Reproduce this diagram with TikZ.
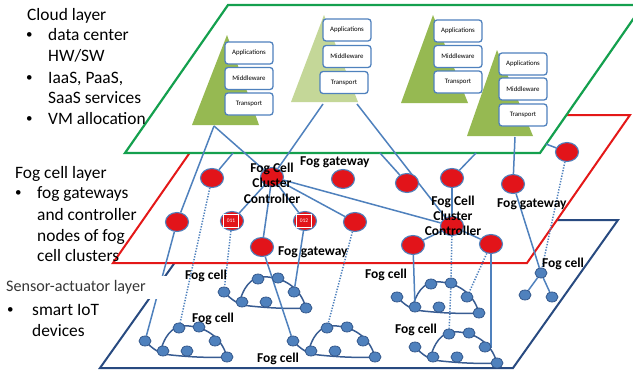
\documentclass[tikz,border=0pt]{standalone}
\usepackage{fontspec}
\setmainfont{Carlito}
\usetikzlibrary{shapes.geometric}

\definecolor{linkblue}{RGB}{79,129,189}
\definecolor{arcblue}{RGB}{56,92,146}
\definecolor{dotedge}{RGB}{52,88,140}
\definecolor{cloudgreen}{RGB}{20,160,78}
\definecolor{fogline}{RGB}{228,24,24}
\definecolor{sensorline}{RGB}{40,74,128}
\definecolor{fogred}{RGB}{226,20,26}
\definecolor{stackgreen}{RGB}{150,185,82}
\definecolor{stackpale}{RGB}{196,215,152}
\definecolor{captiongray}{RGB}{55,55,55}

\pgfdeclarelayer{planes}
\pgfdeclarelayer{wires}
\pgfsetlayers{planes,wires,main}

\tikzset{
  plane/.style={fill=white, line width=2pt, line join=miter},
  stackbox/.style={draw=linkblue, line width=1.3pt, rounded corners=3pt, fill=white,
    minimum width=48pt, minimum height=22pt, inner sep=0pt, font=\fontsize{6.8}{7}\selectfont},
  fognode/.style={ellipse, draw=linkblue, line width=1.1pt, fill=fogred,
    minimum width=23pt, minimum height=19pt, inner sep=0pt},
  chip/.style={fill=fogred, draw=white, line width=0.5pt, text=white, minimum width=15pt,
    minimum height=13pt, inner sep=0pt, font=\fontsize{5.5}{6}\selectfont},
  sdot/.style={ellipse, draw=dotedge, line width=0.8pt, fill=linkblue,
    minimum width=12pt, minimum height=10pt, inner sep=0pt},
  link/.style={draw=linkblue, line width=1.5pt},
  dotlink/.style={draw=linkblue, line width=1.5pt, dash pattern=on 1.3pt off 1.5pt},
  grouparc/.style={draw=arcblue, line width=1.5pt},
  layertitle/.style={anchor=base west, inner sep=0pt, font=\fontsize{17.4}{20}\selectfont},
  bulletmark/.style={anchor=base west, inner sep=0pt, font=\fontsize{13}{14}\selectfont},
  tag/.style={anchor=base west, inner sep=0pt, font=\bfseries\fontsize{13.5}{15}\selectfont},
  ctag/.style={anchor=base, inner sep=0pt, font=\bfseries\fontsize{13.5}{15}\selectfont},
}

% one cluster of seven smart devices: #1 name prefix, (#2,#3) leftmost device
\newcommand\sensorgroup[3]{%
  \begin{scope}[shift={(#2,#3)}]
    \begin{pgfonlayer}{wires}
      \draw[grouparc] (0,0) .. controls (8,8) and (14,13) .. (26,14)
                            .. controls (45,16) and (65,17) .. (82,16);
      \draw[grouparc] (16,8) .. controls (22,-10) and (30,-16) .. (44,-15)
                             .. controls (58,-14) and (76,-6) .. (82,16);
    \end{pgfonlayer}
    \node[sdot] (#1-1) at (0,0) {};
    \node[sdot] (#1-2) at (18,10) {};
    \node[sdot] (#1-3) at (34,-13) {};
    \node[sdot] (#1-4) at (54,-14) {};
    \node[sdot] (#1-5) at (70,0) {};
    \node[sdot] (#1-6) at (42,10) {};
    \node[sdot] (#1-7) at (82,16) {};
  \end{scope}}

\begin{document}
\begin{tikzpicture}[x=1pt,y=-1pt]
\useasboundingbox (0,0) rectangle (633,372);

% the three layer planes, bottom to top
\begin{pgfonlayer}{planes}
  \begin{scope}
    \clip (0,0) rectangle (633,372);
    \draw[plane, draw=sensorline] (100,368) -- (513,368) -- (618,220) -- (205,220) -- cycle;
    \draw[plane, draw=fogline]    (113,263) -- (527,263) -- (630,115) -- (216,115) -- cycle;
    \draw[plane, draw=cloudgreen, line width=2.2pt] (125,153) -- (540,153) -- (643,5) -- (228,5) -- cycle;
  \end{scope}
\end{pgfonlayer}

% cloud stacks
\fill[stackgreen] (192,125) -- (227,35) -- (259,125) -- cycle;
\node[stackbox] (s1a) at (249,53)   {Applications};
\node[stackbox] (s1m) at (249,78.5) {Middleware};
\node[stackbox] (s1t) at (249,104)  {Transport};

\fill[stackpale] (291,102) -- (324,15) -- (358,102) -- cycle;
\node[stackbox] (s2a) at (347,30)   {Applications};
\node[stackbox] (s2m) at (347,56.5) {Middleware};
\node[stackbox] (s2t) at (344,82.5) {Transport};

\fill[stackgreen] (401,103) -- (433,15) -- (468,103) -- cycle;
\node[stackbox] (s3a) at (458,31)   {Applications};
\node[stackbox] (s3m) at (458,56.5) {Middleware};
\node[stackbox] (s3t) at (458,82)   {Transport};

\fill[stackgreen] (467,136) -- (497,50) -- (533,136) -- cycle;
\node[stackbox] (s4a) at (523,64)  {Applications};
\node[stackbox] (s4m) at (523,89)  {Middleware};
\node[stackbox] (s4t) at (523,115) {Transport};

% attachment points on the stacks and on the cloud plane edge
\coordinate (t1)  at (214,126);
\coordinate (t2l) at (323,104);
\coordinate (t2r) at (357,104);
\coordinate (t4)  at (515,137);
\coordinate (g1)  at (233,153);
\coordinate (g2)  at (380,153);
\coordinate (g3)  at (476,153);
\coordinate (g4)  at (546,144);

% fog cell layer nodes
\node[fognode] (gw1)  at (212,178) {};
\node[fognode] (ctl1) at (272,177) {};
\node[fognode] (gw2)  at (343,179) {};
\node[fognode] (gw6)  at (407,183) {};
\node[fognode] (gw7)  at (452,178) {};
\node[fognode] (gw8)  at (513,184) {};
\node[fognode] (gw9)  at (567,152) {};
\node[fognode] (gw3)  at (177,222) {};
\node[fognode] (n011) at (232,221) {};
\node[chip]    (c011) at (231,221) {011};
\node[fognode] (n012) at (305,221) {};
\node[chip]    (c012) at (304,221) {012};
\node[fognode] (gw4)  at (355,222) {};
\node[fognode] (ctl2) at (452,226) {};
\node[fognode] (gw5)  at (262,247) {};
\node[fognode] (gw10) at (413,245) {};
\node[fognode] (gw11) at (491,244) {};

% sensor-actuator layer devices
\sensorgroup{sa}{145}{341}
\sensorgroup{sb}{224}{292}
\sensorgroup{sc}{293}{341}
\sensorgroup{sd}{397}{297}
\sensorgroup{se}{415}{347}
\node[sdot] (tr0) at (541,273) {};
\node[sdot] (tr1) at (525,295) {};
\node[sdot] (tr2) at (552,297) {};

% connections
\begin{pgfonlayer}{wires}
  \draw[link] (tr0) -- (tr1);
  \draw[link] (tr0) -- (tr2);
  \draw[link] (t1) -- (gw3);
  \draw[link] (t1) -- (ctl1);
  \draw[link] (t2l) -- (ctl1);
  \draw[link] (t2r) -- (ctl2);
  \draw[link] (t4) -- (gw8);
  \draw[link] (gw1) -- (g1);
  \draw[link] (gw6) -- (g2);
  \draw[link] (gw7) -- (g3);
  \draw[link] (gw9) -- (g4);
  \draw[link] (ctl1) -- (n011);
  \draw[link] (ctl1) -- (n012);
  \draw[link] (ctl1) -- (gw5);
  \draw[link] (ctl1) -- (gw4);
  \draw[link] (ctl1) -- (ctl2);
  \draw[link] (gw7) -- (ctl2);
  \draw[link] (ctl2) -- (gw10);
  \draw[link] (ctl2) -- (gw11);
  \draw[link] (gw3) -- (sa-1);
  \draw[dotlink] (gw1) -- (sa-3);
  \draw[dotlink] (n011) -- (sb-1);
  \draw[link] (n012) -- (sb-5);
  \draw[link] (gw5) -- (sc-1);
  \draw[dotlink] (gw4) -- (sc-3);
  \draw[link] (gw10) -- (sd-2);
  \draw[dotlink] (ctl2) -- (sd-4);
  \draw[dotlink] (sd-4) -- (se-3);
  \draw[dotlink] (gw11) -- (sd-5);
  \draw[link] (gw11) -- (gw11 |- se-5) -- (se-5);
  \draw[link] (gw8) -- (tr0);
  \draw[dotlink] (gw9) -- (tr0);
\end{pgfonlayer}

% node labels
\node[tag] (lgw1) at (300,165) {Fog gateway};
\node[tag] (lgw2) at (278,255) {Fog gateway};
\node[tag] (lgw3) at (497,207) {Fog gateway};
\node[ctag] (lc1a) at (272,172) {Fog Cell};
\node[ctag] (lc1b) at (272,187) {Cluster};
\node[ctag] (lc1c) at (272,203) {Controller};
\node[ctag] (lc2a) at (453,205) {Fog Cell};
\node[ctag] (lc2b) at (453,220) {Cluster};
\node[ctag] (lc2c) at (453,235) {Controller};
\node[tag] (lfc1) at (185,279) {Fog cell};
\node[tag] (lfc2) at (192,322) {Fog cell};
\node[tag] (lfc3) at (257,362) {Fog cell};
\node[tag] (lfc4) at (365,278) {Fog cell};
\node[tag] (lfc5) at (395,333) {Fog cell};
\node[tag] (lfc6) at (542,267) {Fog cell};

% layer descriptions
\node[layertitle] (cloudtitle) at (27,20) {Cloud layer};
\node[bulletmark] (cb1) at (26,38.5)  {•};
\node[layertitle] (ct1) at (48,40)    {data center};
\node[layertitle] (ct2) at (48,61.5)  {HW/SW};
\node[bulletmark] (cb2) at (26,81.5)  {•};
\node[layertitle] (ct3) at (48,83)    {IaaS, PaaS,};
\node[layertitle] (ct4) at (48,103.5) {SaaS services};
\node[bulletmark] (cb3) at (26,122.5) {•};
\node[layertitle] (ct5) at (48,124)   {VM allocation};

\node[layertitle] (fogtitle) at (15,178.3) {Fog cell layer};
\node[bulletmark] (fb1) at (15,196.8) {•};
\node[layertitle] (ft1) at (37,198.3) {fog gateways};
\node[layertitle] (ft2) at (37,220)   {and controller};
\node[layertitle] (ft3) at (37,241)   {nodes of fog};
\node[layertitle] (ft4) at (37,261.7) {cell clusters};

\fill[white] (0,276) rectangle (170,298.5);
\node[layertitle, text=captiongray, font=\fontsize{16.1}{18}\selectfont] (sensortitle) at (6,291.7) {Sensor-actuator layer};
\node[bulletmark] (sb1t) at (7,313.5) {•};
\node[layertitle] (st1) at (32,315) {smart IoT};
\node[layertitle] (st2) at (32,336) {devices};
\end{tikzpicture}
\end{document}
